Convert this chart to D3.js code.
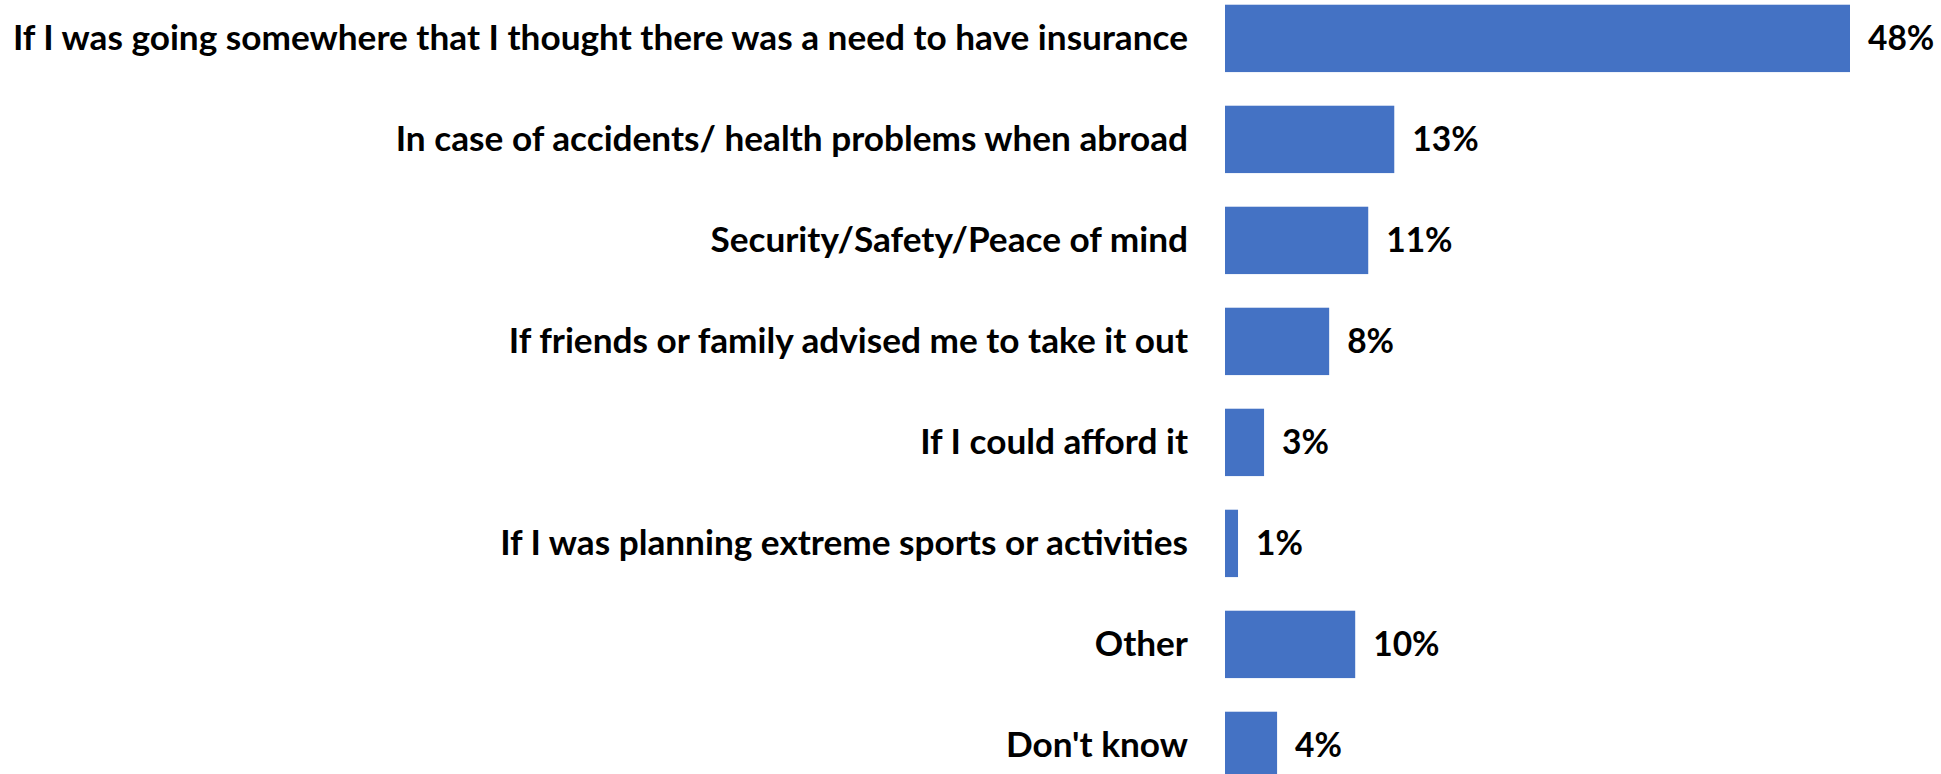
<!DOCTYPE html>
<html>
<head>
<meta charset="utf-8">
<script src="https://cdn.jsdelivr.net/npm/d3@7"></script>
<style>
  html, body { margin: 0; padding: 0; background: #ffffff; }
  svg { display: block; }
  text { font-family: Lato, "Noto Sans", sans-serif; font-weight: 700; fill: #000000; }
</style>
</head>
<body>
<svg id="chart" width="1941" height="774"></svg>
<script>
// Reasons for taking out travel insurance (share of respondents, %)
const categories = [
  "If I was going somewhere that I thought there was a need to have insurance",
  "In case of accidents/ health problems when abroad",
  "Security/Safety/Peace of mind",
  "If friends or family advised me to take it out",
  "If I could afford it",
  "If I was planning extreme sports or activities",
  "Other",
  "Don't know"
];
const values = [48, 13, 11, 8, 3, 1, 10, 4];
const valueLabels = ["48%", "13%", "11%", "8%", "3%", "1%", "10%", "4%"];

const data = categories.map((c, i) => ({ category: c, value: values[i], label: valueLabels[i] }));

const width = 1941, height = 774;
const plotLeft = 1225;
const svg = d3.select("#chart");

const x = d3.scaleLinear()
  .domain([0, 48])
  .range([plotLeft, plotLeft + 625]);

const y = d3.scaleBand()
  .domain(categories)
  .range([-12.1, 795.9])
  .paddingInner(0.333)
  .paddingOuter(0.1665);

// Bars
svg.append("g")
  .selectAll("rect")
  .data(data)
  .join("rect")
  .attr("x", x(0))
  .attr("y", d => y(d.category))
  .attr("width", d => x(d.value) - x(0))
  .attr("height", y.bandwidth())
  .attr("fill", "#4472C4");

// Category labels on the left, right-aligned
const yAxis = d3.axisLeft(y).tickSize(0).tickPadding(37);
const axisG = svg.append("g")
  .attr("transform", `translate(${plotLeft},0)`)
  .call(yAxis);
axisG.select(".domain").remove();
axisG.selectAll("text")
  .attr("font-size", 35.2)
  .style("font-family", "Lato, 'Noto Sans', sans-serif")
  .style("font-weight", 700)
  .attr("fill", "#000");

// Value labels at the end of each bar
svg.append("g")
  .selectAll("text")
  .data(data)
  .join("text")
  .attr("x", d => x(d.value) + 18)
  .attr("y", d => y(d.category) + y.bandwidth() / 2)
  .attr("dy", "0.35em")
  .attr("font-size", 33.5)
  .text(d => d.label);
</script>
</body>
</html>
